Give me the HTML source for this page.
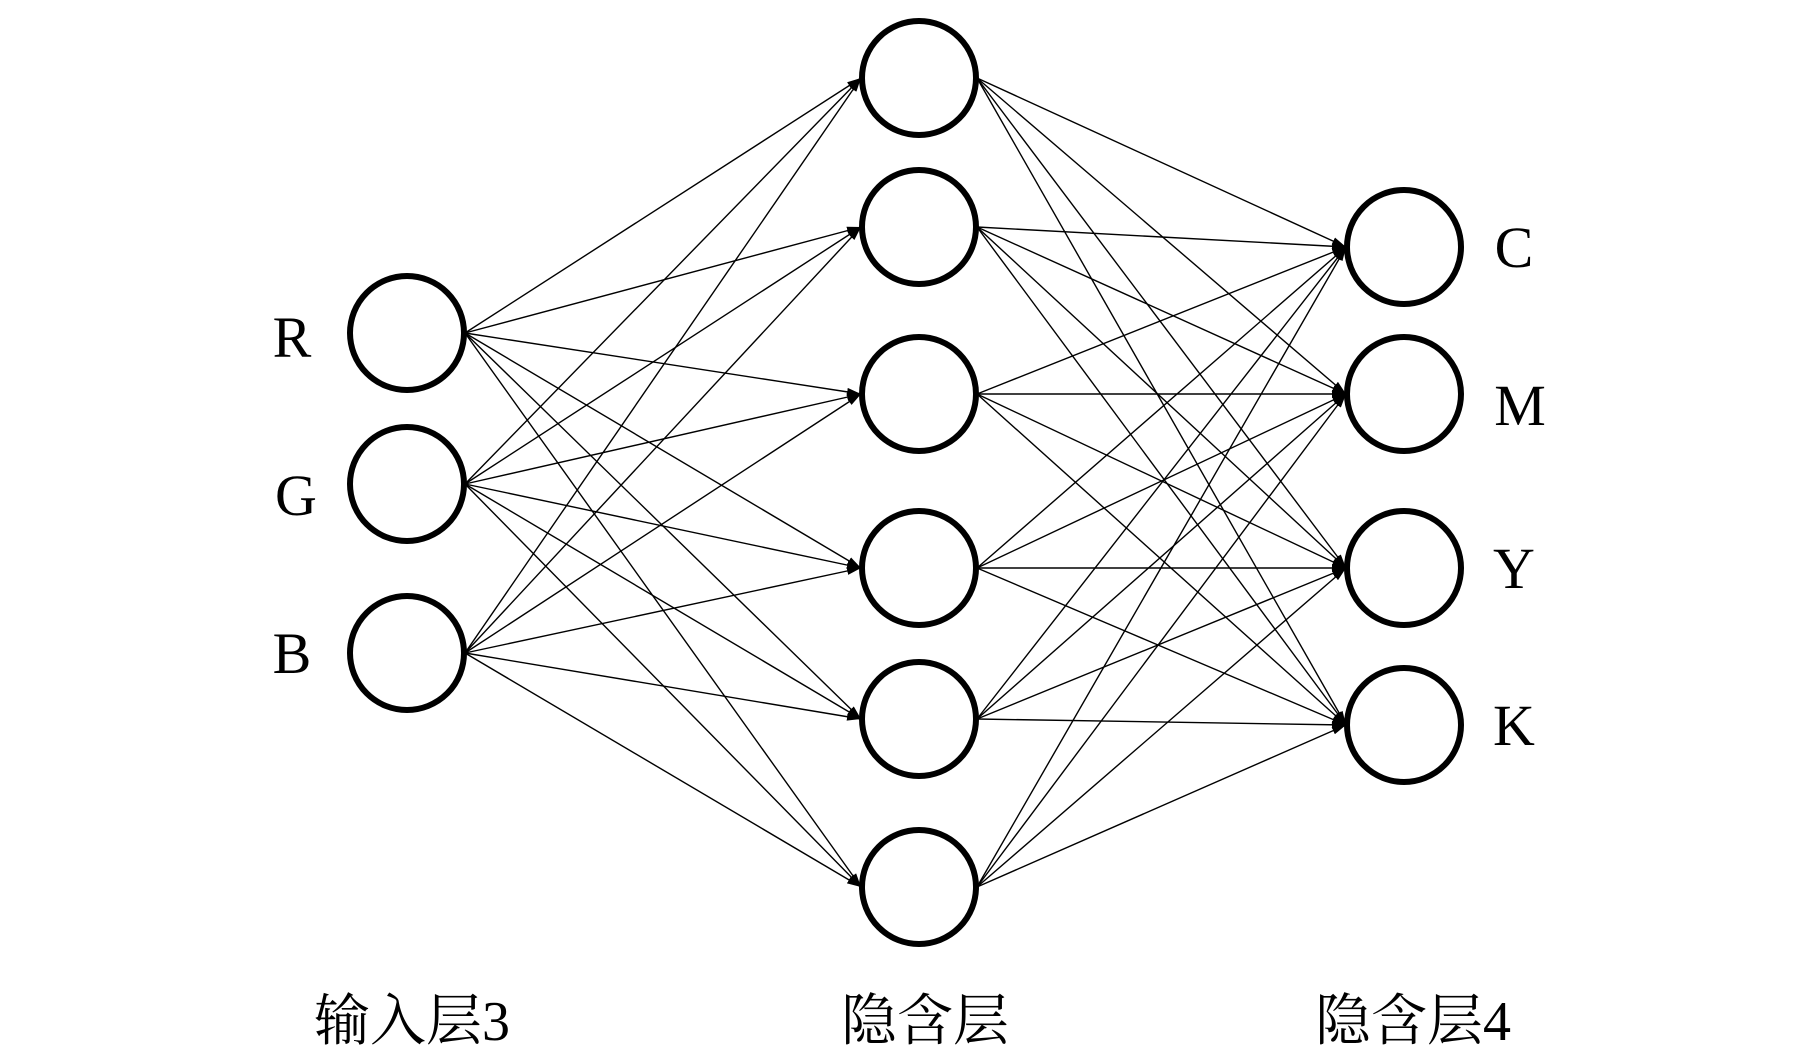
<!DOCTYPE html>
<html><head><meta charset="utf-8"><style>
html,body{margin:0;padding:0;background:#fff;}
svg{display:block;}
text{font-family:"Liberation Serif","Noto Serif CJK SC",serif;fill:#000;}
</style></head><body>
<svg width="1819" height="1061" viewBox="0 0 1819 1061" xmlns="http://www.w3.org/2000/svg">
<defs><marker id="a" markerWidth="14" markerHeight="8" refX="14" refY="4" orient="auto" markerUnits="userSpaceOnUse"><path d="M0,0 L14,4 L0,8 Z" fill="#000"/></marker></defs>
<g id="lines" stroke="#000" stroke-width="1.4" fill="none" marker-end="url(#a)"></g>
<g id="nodes" fill="#fff" stroke="#000" stroke-width="6"></g>
<text x="292" y="357" font-size="58" text-anchor="middle">R</text>
<text x="296" y="515" font-size="58" text-anchor="middle">G</text>
<text x="292" y="673" font-size="58" text-anchor="middle">B</text>
<text x="1514" y="267" font-size="58" text-anchor="middle">C</text>
<text x="1520" y="425" font-size="58" text-anchor="middle">M</text>
<text x="1514" y="588" font-size="58" text-anchor="middle">Y</text>
<text x="1514" y="745" font-size="58" text-anchor="middle">K</text>
<text x="412" y="1040" font-size="56" text-anchor="middle">输入层3</text>
<text x="925" y="1040" font-size="56" text-anchor="middle">隐含层</text>
<text x="1413" y="1040" font-size="56" text-anchor="middle">隐含层4</text>
</svg>
<script>
var ns="http://www.w3.org/2000/svg";
var inp=[[407,333],[407,484],[407,653]];
var hid=[[919,78],[919,227],[919,394],[919,568],[919,719],[919,887]];
var out=[[1404,247],[1404,394],[1404,568],[1404,725]];
var L=document.getElementById("lines"),N=document.getElementById("nodes");
function line(a,b){var l=document.createElementNS(ns,"line");l.setAttribute("x1",a[0]+58);l.setAttribute("y1",a[1]);l.setAttribute("x2",b[0]-58);l.setAttribute("y2",b[1]);L.appendChild(l);}
inp.forEach(function(a){hid.forEach(function(b){line(a,b);});});
hid.forEach(function(a){out.forEach(function(b){line(a,b);});});
inp.concat(hid,out).forEach(function(p){var c=document.createElementNS(ns,"ellipse");c.setAttribute("cx",p[0]);c.setAttribute("cy",p[1]);c.setAttribute("rx",57);c.setAttribute("ry",57);N.appendChild(c);});
</script>
</body></html>
